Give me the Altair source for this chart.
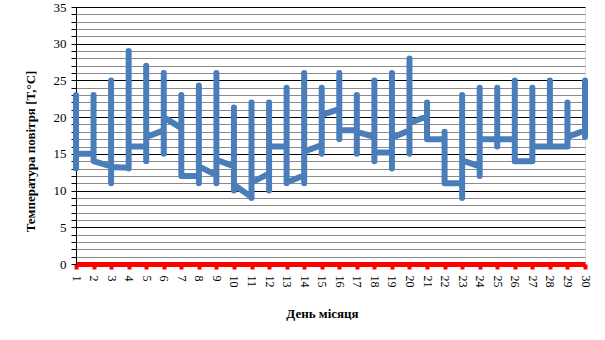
import altair as alt
import pandas as pd

days = list(range(1, 31))
opens = [15, 15, 13.3, 13.1, 16, 18.2, 18.5, 12, 12.1, 13.3,
         9.1, 12.3, 16, 12.1, 16.2, 21.1, 18.2, 17.3, 15.2, 18.2,
         20.1, 17, 11, 13.3, 17, 17, 14, 16, 16, 18.2]
highs = [23, 23, 25, 29, 27, 26, 23, 24.3, 26, 21.3,
         22, 22, 24, 26, 24, 26, 23, 25, 26, 28,
         22, 18, 23, 24, 24, 25, 24, 25, 22, 25]
lows = [13, 14, 11, 13, 14, 15, 12, 11, 11, 10,
        9, 10, 11, 11, 15, 17, 15, 14, 13, 15,
        17, 11, 9, 12, 16, 14, 14, 16, 16, 17.3]
closes = [15, 14, 13.2, 16, 17.3, 20, 12, 13.3, 14.2, 10.8,
          11.1, 16, 11.1, 15.3, 20.3, 18.2, 18, 15.2, 17.2, 19.2,
          17, 11, 14.1, 17, 17, 14, 16, 16, 17.3, 18.2]

rows = []
for i, d in enumerate(days):
    for k, v in enumerate([opens[i], highs[i], lows[i], closes[i]]):
        rows.append({"day": d, "temp": v, "seq": i * 4 + k})
df = pd.DataFrame(rows)

serif = "Liberation Serif"

x_axis = alt.Axis(
    title="День місяця",
    titleFont=serif, titleFontSize=13, titleFontWeight="bold", titleColor="black",
    titleX=246, titleY=49, titleBaseline="middle", titleAnchor="start", titleAlign="center",
    labelAngle=90, labelAlign="left", labelBaseline="middle",
    labelFont=serif, labelFontSize=12, labelColor="black", labelPadding=6,
    domainColor="red", domainWidth=5,
    tickColor="red", tickWidth=4, tickSize=5,
    grid=False,
)

y_axis = alt.Axis(
    title="Температура повітря [T,°C]",
    titleFont=serif, titleFontSize=13, titleFontWeight="bold", titleColor="black",
    titleX=-46, titleY=144, titleAngle=-90, titleAlign="center", titleBaseline="middle",
    titleAnchor="start",
    values=list(range(0, 36)),
    labelExpr="datum.value % 5 === 0 ? datum.label : ''",
    labelFont=serif, labelFontSize=13, labelColor="black", labelPadding=5,
    domainColor="black", domainWidth=1,
    tickColor="black", tickSize=5, tickWidth=1,
    grid=True,
    gridColor={"condition": {"test": "datum.value % 5 === 0", "value": "black"}, "value": "#8a8a8a"},
    gridWidth=1, gridOpacity=1,
)

chart = alt.Chart(df).mark_line(
    color="#4a7ebb", strokeWidth=6, strokeJoin="round", strokeCap="round"
).encode(
    x=alt.X("day:O", scale=alt.Scale(type="point", padding=0), axis=x_axis),
    y=alt.Y("temp:Q", scale=alt.Scale(domain=[0, 35], nice=False, zero=True), axis=y_axis),
    order="seq:Q",
).properties(
    width=509, height=257,
    autosize=alt.AutoSizeParams(type="none"),
    padding={"left": 76, "top": 7, "right": 20, "bottom": 76},
).configure_view(stroke=None).configure(background="white")

chart.save("out.html", embed_options={"renderer": "svg", "actions": False})
